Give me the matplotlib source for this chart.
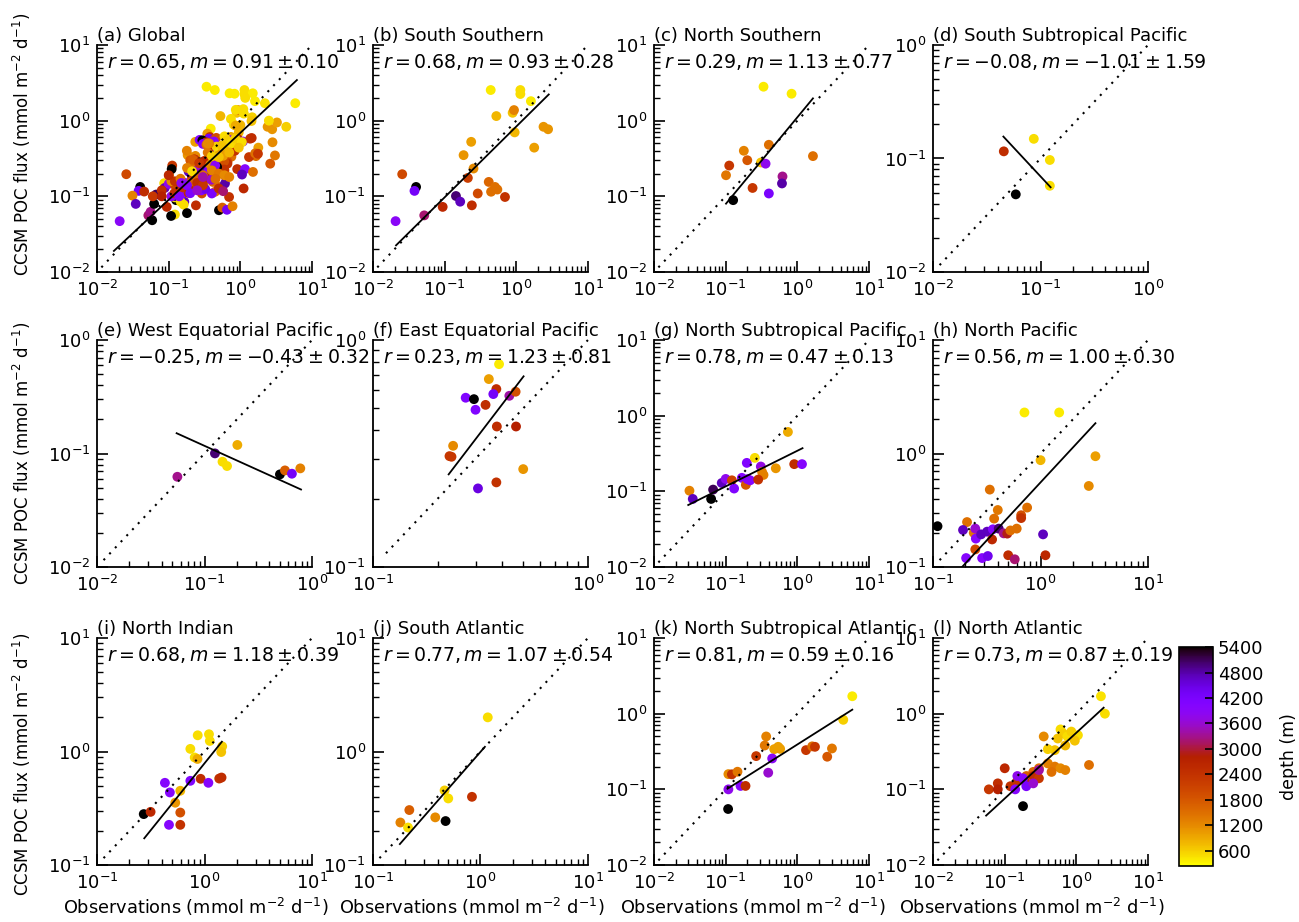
import numpy as np
import matplotlib.pyplot as plt
from matplotlib.colors import Normalize
from matplotlib.ticker import LogLocator, NullFormatter

# (b) South Southern
b_obs = [0.0207, 0.0256, 0.040, 0.038, 0.052, 0.094, 0.144, 0.165, 0.211, 0.24,
         0.253, 0.184, 0.235, 0.29, 0.413, 0.445, 0.505, 0.545, 0.696, 0.44,
         0.527, 0.89, 0.93, 0.95, 1.14, 1.14, 1.6, 1.78, 2.4, 2.78]
b_mod = [0.047, 0.196, 0.133, 0.118, 0.056, 0.0725, 0.101, 0.085, 0.175, 0.076,
         0.233, 0.35, 0.525, 0.109, 0.155, 0.115, 0.133, 0.123, 0.098, 2.54,
         1.15, 1.27, 1.38, 0.70, 2.54, 2.25, 1.81, 0.44, 0.83, 0.77]
b_dep = [3900, 2000, 5400, 4300, 3200, 2600, 5000, 4700, 2200, 2500,
         1200, 1100, 1000, 2000, 1600, 1500, 1500, 1500, 2400, 400,
         800, 700, 1300, 800, 500, 500, 400, 1000, 1100, 1100]
b_fit_x = [0.021, 2.84]
b_fit_y = [0.0225, 2.22]

# (c) North Southern
c_obs = [0.337, 0.83, 0.40, 0.179, 0.20, 0.112, 0.101, 0.31, 0.36, 1.65,
         0.62, 0.61, 0.237, 0.40, 0.127]
c_mod = [2.81, 2.27, 0.48, 0.40, 0.30, 0.255, 0.19, 0.28, 0.27, 0.34,
         0.183, 0.148, 0.129, 0.109, 0.089]
c_dep = [400, 400, 1500, 1300, 1800, 2300, 1400, 700, 3800, 1500,
         3300, 4800, 2300, 4200, 5400]
c_fit_x = [0.101, 1.65]
c_fit_y = [0.080, 1.97]

# (d) South Subtropical Pacific
d_obs = [0.0455, 0.0865, 0.122, 0.122, 0.0588]
d_mod = [0.1156, 0.149, 0.097, 0.0575, 0.0483]
d_dep = [2500, 500, 500, 500, 5400]
d_fit_x = [0.0451, 0.124]
d_fit_y = [0.156, 0.0558]

# (e) West Equatorial Pacific
e_obs = [0.0559, 0.125, 0.202, 0.147, 0.162, 0.503, 0.56, 0.65, 0.778]
e_mod = [0.0624, 0.1003, 0.119, 0.0847, 0.0776, 0.0655, 0.071, 0.0664, 0.074]
e_dep = [3300, 5000, 900, 500, 500, 5400, 1700, 4300, 1300]
e_fit_x = [0.055, 0.79]
e_fit_y = [0.151, 0.0482]

# (f) East Equatorial Pacific
f_obs = [0.386, 0.346, 0.375, 0.363, 0.270, 0.295, 0.334, 0.30, 0.431, 0.461,
         0.377, 0.463, 0.236, 0.227, 0.232, 0.50, 0.375, 0.308]
f_mod = [0.783, 0.673, 0.608, 0.578, 0.557, 0.549, 0.518, 0.493, 0.568, 0.592,
         0.416, 0.416, 0.342, 0.308, 0.306, 0.270, 0.236, 0.222]
f_dep = [400, 1000, 2500, 4300, 4100, 5400, 2500, 4100, 3400, 1900,
         2500, 2800, 1200, 2300, 2300, 1100, 2400, 4500]
f_fit_x = [0.225, 0.502]
f_fit_y = [0.256, 0.692]

# (g) North Subtropical Pacific
g_obs = [0.0312, 0.0347, 0.0626, 0.0667, 0.088, 0.100, 0.122, 0.131, 0.168, 0.191,
         0.201, 0.219, 0.197, 0.255, 0.309, 0.337, 0.322, 0.284, 0.50, 0.738,
         0.904, 1.16]
g_mod = [0.102, 0.0794, 0.0794, 0.1055, 0.129, 0.146, 0.140, 0.109, 0.151, 0.122,
         0.145, 0.140, 0.238, 0.277, 0.213, 0.165, 0.180, 0.143, 0.202, 0.61,
         0.229, 0.229]
g_dep = [1300, 4700, 5400, 5100, 4700, 3800, 2100, 4100, 4000, 1800,
         4000, 4000, 4100, 500, 3700, 1300, 1300, 2400, 1100, 900,
         2500, 4000]
g_fit_x = [0.030, 1.18]
g_fit_y = [0.066, 0.372]

# (h) North Pacific
h_obs = [0.708, 1.49, 1.0, 3.24, 2.81, 0.337, 0.40, 0.37, 0.75, 0.66,
         0.66, 0.207, 0.19, 0.239, 0.247, 0.25, 0.28, 0.318, 0.36, 0.408,
         0.454, 0.49, 0.524, 0.60, 0.354, 0.247, 0.203, 0.286, 0.323, 0.50,
         0.575, 1.11, 1.055, 0.11]
h_mod = [2.30, 2.30, 0.874, 0.947, 0.518, 0.481, 0.318, 0.267, 0.334, 0.286,
         0.27, 0.249, 0.212, 0.20, 0.218, 0.178, 0.194, 0.205, 0.215, 0.218,
         0.198, 0.197, 0.21, 0.218, 0.175, 0.143, 0.12, 0.12, 0.125, 0.127,
         0.117, 0.127, 0.194, 0.229]
h_dep = [400, 400, 800, 1000, 1200, 1500, 1400, 1500, 1500, 1900,
         2400, 1500, 4700, 1400, 3600, 4000, 4700, 4700, 4000, 5000,
         3300, 2900, 1500, 1500, 2600, 2000, 4000, 4000, 4400, 2500,
         3200, 2600, 4700, 5400]
h_fit_x = [0.186, 3.24]
h_fit_y = [0.1, 1.85]

# (i) North Indian
i_obs = [0.272, 0.315, 0.428, 0.476, 0.595, 0.534, 0.595, 0.467, 0.595, 0.738,
         0.92, 1.086, 1.37, 1.44, 0.738, 0.81, 0.86, 0.864, 1.10, 1.12,
         1.46, 1.43]
i_mod = [0.281, 0.294, 0.53, 0.436, 0.451, 0.354, 0.29, 0.226, 0.226, 0.552,
         0.575, 0.53, 0.578, 0.59, 1.055, 0.886, 0.86, 1.39, 1.42, 1.24,
         1.11, 0.99]
i_dep = [5400, 2600, 4000, 4000, 800, 1100, 1900, 4000, 2400, 4100,
         2500, 4000, 2400, 2500, 500, 500, 900, 500, 500, 500,
         600, 700]
i_fit_x = [0.275, 1.45]
i_fit_y = [0.172, 1.22]

# (j) South Atlantic
j_obs = [1.17, 0.18, 0.218, 0.212, 0.38, 0.464, 0.502, 0.474, 0.834]
j_mod = [2.0, 0.237, 0.305, 0.214, 0.263, 0.454, 0.386, 0.244, 0.399]
j_dep = [500, 1300, 1700, 500, 1200, 600, 500, 5400, 2400]
j_fit_x = [0.178, 1.1]
j_fit_y = [0.153, 1.1]

# (k) North Subtropical Atlantic
k_obs = [5.84, 4.37, 0.367, 0.35, 0.475, 0.54, 0.575, 0.266, 0.445, 1.32,
         1.61, 1.76, 2.61, 3.04, 0.392, 0.109, 0.122, 0.146, 0.109, 0.161,
         0.189, 0.108]
k_mod = [1.70, 0.83, 0.50, 0.38, 0.34, 0.365, 0.343, 0.275, 0.256, 0.33,
         0.37, 0.365, 0.27, 0.347, 0.166, 0.159, 0.158, 0.171, 0.10, 0.111,
         0.111, 0.055]
k_dep = [400, 600, 1300, 1400, 1000, 1000, 1000, 2300, 3900, 2300,
         1500, 2300, 1800, 1400, 3600, 1200, 2400, 1400, 3800, 4000,
         2500, 5400]
k_fit_x = [0.106, 5.84]
k_fit_y = [0.102, 1.13]

# (l) North Atlantic
l_obs = [2.2, 2.5, 0.6, 0.65, 0.75, 0.85, 1.05, 0.95, 0.55, 0.5,
         0.4, 0.7, 0.4, 0.3, 0.5, 0.6, 0.25, 0.7, 1.5, 0.35,
         0.2, 0.45, 0.06, 0.08, 0.1, 0.12, 0.15, 0.2, 0.25, 0.3,
         0.08, 0.15, 0.18, 0.2, 0.25, 0.14, 0.3, 0.18]
l_mod = [1.7, 1.0, 0.62, 0.55, 0.5, 0.58, 0.52, 0.44, 0.47, 0.33,
         0.34, 0.38, 0.22, 0.19, 0.2, 0.19, 0.17, 0.18, 0.21, 0.5,
         0.15, 0.17, 0.1, 0.12, 0.19, 0.11, 0.13, 0.12, 0.15, 0.14,
         0.1, 0.15, 0.14, 0.11, 0.12, 0.1, 0.18, 0.06]
l_dep = [450, 500, 500, 600, 500, 600, 500, 700, 700, 700,
         600, 800, 1300, 1500, 1400, 1200, 1600, 1300, 1500, 1200,
         1700, 1500, 2300, 2500, 2600, 2400, 2400, 2600, 2500, 2300,
         2800, 3800, 4000, 4200, 3600, 4000, 3400, 5400]
l_fit_x = [0.055, 2.4]
l_fit_y = [0.045, 1.2]

# (a) Global = all regions together
a_obs = b_obs + c_obs + d_obs + e_obs + f_obs + g_obs + h_obs + i_obs + j_obs + k_obs + l_obs
a_mod = b_mod + c_mod + d_mod + e_mod + f_mod + g_mod + h_mod + i_mod + j_mod + k_mod + l_mod
a_dep = b_dep + c_dep + d_dep + e_dep + f_dep + g_dep + h_dep + i_dep + j_dep + k_dep + l_dep
a_fit_x = [0.0172, 6.15]
a_fit_y = [0.019, 3.44]

titles = ['(a) Global', '(b) South Southern', '(c) North Southern',
          '(d) South Subtropical Pacific', '(e) West Equatorial Pacific',
          '(f) East Equatorial Pacific', '(g) North Subtropical Pacific',
          '(h) North Pacific', '(i) North Indian', '(j) South Atlantic',
          '(k) North Subtropical Atlantic', '(l) North Atlantic']
r_vals = ['0.65', '0.68', '0.29', '-0.08', '-0.25', '0.23', '0.78', '0.56',
          '0.68', '0.77', '0.81', '0.73']
m_vals = ['0.91', '0.93', '1.13', '-1.01', '-0.43', '1.23', '0.47', '1.00',
          '1.18', '1.07', '0.59', '0.87']
m_errs = ['0.10', '0.28', '0.77', '1.59', '0.32', '0.81', '0.13', '0.30',
          '0.39', '0.54', '0.16', '0.19']
xlims = [(1e-2, 1e1), (1e-2, 1e1), (1e-2, 1e1), (1e-2, 1e0), (1e-2, 1e0), (1e-1, 1e0),
         (1e-2, 1e1), (1e-1, 1e1), (1e-1, 1e1), (1e-1, 1e1), (1e-2, 1e1), (1e-2, 1e1)]
ylims = xlims

panels = [(a_obs, a_mod, a_dep, a_fit_x, a_fit_y),
          (b_obs, b_mod, b_dep, b_fit_x, b_fit_y),
          (c_obs, c_mod, c_dep, c_fit_x, c_fit_y),
          (d_obs, d_mod, d_dep, d_fit_x, d_fit_y),
          (e_obs, e_mod, e_dep, e_fit_x, e_fit_y),
          (f_obs, f_mod, f_dep, f_fit_x, f_fit_y),
          (g_obs, g_mod, g_dep, g_fit_x, g_fit_y),
          (h_obs, h_mod, h_dep, h_fit_x, h_fit_y),
          (i_obs, i_mod, i_dep, i_fit_x, i_fit_y),
          (j_obs, j_mod, j_dep, j_fit_x, j_fit_y),
          (k_obs, k_mod, k_dep, k_fit_x, k_fit_y),
          (l_obs, l_mod, l_dep, l_fit_x, l_fit_y)]

depth_min, depth_max = 240, 5400
cbar_ticks = [600, 1200, 1800, 2400, 3000, 3600, 4200, 4800, 5400]

unit = r'(mmol m$^{-2}$ d$^{-1}$)'

fig = plt.figure(figsize=(12.99, 9.22), dpi=100)
norm = Normalize(vmin=depth_min, vmax=depth_max)
cmap = plt.get_cmap('gnuplot_r')

col_left = [0.0747, 0.2871, 0.5035, 0.7183]
row_bottom = [0.705, 0.385, 0.0618]
w, h = 0.1655, 0.2462
ylab_y = [0.56, 0.5, 0.445]

for k, (obs, mod, dep, fx, fy) in enumerate(panels):
    row, col = divmod(k, 4)
    ax = fig.add_axes([col_left[col], row_bottom[row], w, h])
    ax.set_xscale('log')
    ax.set_yscale('log')
    lo, hi = xlims[k]
    ax.set_xlim(lo, hi)
    ax.set_ylim(*ylims[k])

    sc = ax.scatter(obs, mod, c=dep, cmap=cmap, norm=norm, s=50,
                    edgecolors='none', zorder=2)
    ax.plot([lo * 1.15, hi], [lo * 1.15, hi], color='black', lw=1.5,
            linestyle=(0, (1, 3)), zorder=3, clip_on=False)
    ax.plot(fx, fy, color='black', lw=1.3, zorder=4)

    ax.set_title(titles[k], loc='left', fontsize=13, pad=3)
    ax.text(0.045, 0.925,
            r'$r=%s, m=%s\pm%s$' % (r_vals[k], m_vals[k], m_errs[k]),
            transform=ax.transAxes, fontsize=13.6, va='center', ha='left',
            zorder=5)

    for side in ['top', 'right']:
        ax.spines[side].set_visible(False)
    for side in ['left', 'bottom']:
        ax.spines[side].set_linewidth(1.3)
    ax.xaxis.set_major_locator(LogLocator(base=10))
    ax.yaxis.set_major_locator(LogLocator(base=10))
    ax.xaxis.set_minor_locator(LogLocator(base=10, subs=np.arange(2, 10)))
    ax.yaxis.set_minor_locator(LogLocator(base=10, subs=np.arange(2, 10)))
    ax.xaxis.set_minor_formatter(NullFormatter())
    ax.yaxis.set_minor_formatter(NullFormatter())
    ax.tick_params(which='major', direction='in', length=8, width=1.2,
                   labelsize=13, top=False, right=False)
    ax.tick_params(which='minor', direction='in', length=4.5, width=1.0,
                   top=False, right=False)
    ax.tick_params(axis='x', which='major', pad=6)
    ax.tick_params(axis='y', which='major', pad=5)

    if col == 0:
        ax.set_ylabel('CCSM POC flux ' + unit, fontsize=12)
        ax.yaxis.set_label_coords(-0.30, ylab_y[row])
    if row == 2:
        ax.set_xlabel('Observations ' + unit, fontsize=12.8)
        ax.xaxis.set_label_coords(0.46, -0.135)

cax = fig.add_axes([0.9076, 0.0607, 0.0262, 0.2375])
cb = fig.colorbar(sc, cax=cax, ticks=cbar_ticks)
cb.outline.set_linewidth(1.2)
cb.ax.tick_params(direction='in', length=6, width=1.2, labelsize=13)
cb.set_label('depth (m)', fontsize=12.5, labelpad=12)

fig.savefig('out.png', dpi=100)
